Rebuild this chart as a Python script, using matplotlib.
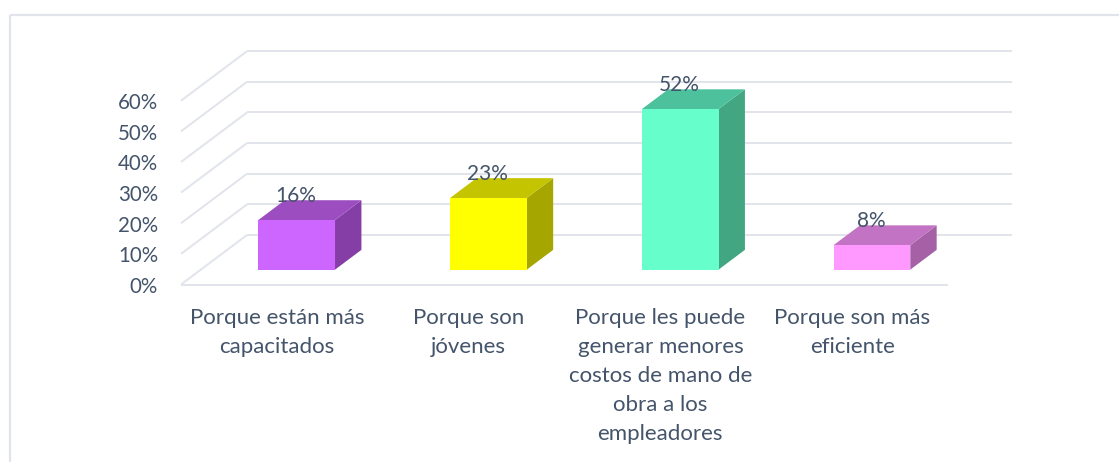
import matplotlib
matplotlib.use("Agg")
import matplotlib.pyplot as plt
from matplotlib.patches import Polygon, Rectangle
from matplotlib.lines import Line2D

categories = [
    "Porque están más\ncapacitados",
    "Porque son\njóvenes",
    "Porque les puede\ngenerar menores\ncostos de mano de\nobra a los\nempleadores",
    "Porque son más\neficiente",
]
values = [16.2, 23.4, 52.4, 8.0]
y_ticks = [0, 10, 20, 30, 40, 50, 60]
front_colors = ["#CC66FF", "#FFFF00", "#66FFCC", "#FF99FF"]
top_colors = ["#9C4DC0", "#C4C400", "#4DC09C", "#C373C3"]
side_colors = ["#843EA6", "#A6A600", "#42A682", "#A661A6"]

TEXT = "#44546A"
GRID = "#E1E4EA"
W, H = 1119, 462
L, R, B, T = 181, 948, 284.5, 100.7  # plot box in pixels

plt.rcParams["font.family"] = ["Lato", "DejaVu Sans"]
plt.rcParams["lines.solid_capstyle"] = "butt"
fig = plt.figure(figsize=(W / 100, H / 100), dpi=100, facecolor="white")
ax = fig.add_axes([L / W, 1 - B / H, (R - L) / W, (B - T) / H])
ax.set_xlim(-0.5, 3.5)
ax.set_ylim(0, 60)
ax.axis("off")

SY = (B - T) / 60     # pixels per percent
SX = (R - L) / 4      # pixels per category
DX = 66 / SX
DY = 49.5 / SY
F0, F1 = 0.30, 0.70
BW = 0.40

for t in y_ticks:
    ax.add_line(Line2D([-0.5, -0.5 + DX], [t, t + DY], color=GRID, lw=1.4, clip_on=False, zorder=1))
    ax.add_line(Line2D([-0.5 + DX, 3.5 + DX - 2 / SX], [t + DY, t + DY], color=GRID, lw=1.4, clip_on=False, zorder=1))
    ax.text(-0.5 - 23 / SX, t - 2.5 / SY, f"{t}%", ha="right", va="center", color=TEXT, fontsize=14.8)
ax.add_line(Line2D([-0.5, 3.5], [0, 0], color=GRID, lw=1.4, clip_on=False, zorder=1))

for i, v in enumerate(values):
    x0 = i - BW / 2 + F0 * DX
    x1 = x0 + BW
    y0 = F0 * DY
    d = (F1 - F0)
    ddx, ddy = d * DX, d * DY
    top = y0 + v
    ax.add_patch(Polygon([(x1, y0), (x1 + ddx, y0 + ddy), (x1 + ddx, top + ddy), (x1, top)],
                         fc=side_colors[i], ec="none", clip_on=False, zorder=3))
    ax.add_patch(Polygon([(x0, top), (x1, top), (x1 + ddx, top + ddy), (x0 + ddx, top + ddy)],
                         fc=top_colors[i], ec="none", clip_on=False, zorder=3))
    ax.add_patch(Rectangle((x0, y0), BW, v, fc=front_colors[i], ec="none", clip_on=False, zorder=4))
    ax.text((x0 + x1) / 2 - 1 / SX, top + 7.8, f"{v:.0f}%", ha="center", va="center",
            color=TEXT, fontsize=15, clip_on=False, zorder=6)

for i, c in enumerate(categories):
    ax.text(i, -23.5 / SY, c, ha="center", va="top", color=TEXT,
            fontsize=16, linespacing=1.56, clip_on=False)

# chart frame: only left and top edges are visible in the crop
fig.add_artist(Line2D([10 / W, 10 / W], [0, 1 - 15 / H], color=GRID, lw=1.6))
fig.add_artist(Line2D([10 / W, 1119 / W], [1 - 15 / H, 1 - 15 / H], color=GRID, lw=1.6))

fig.savefig("out.png", dpi=100)
